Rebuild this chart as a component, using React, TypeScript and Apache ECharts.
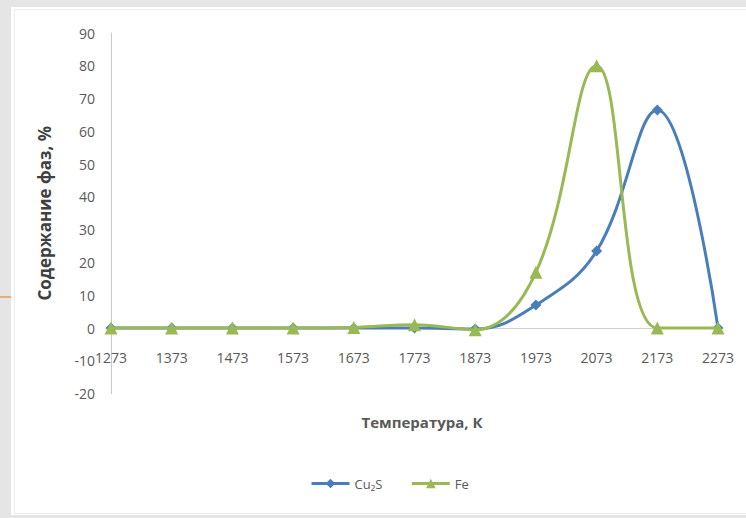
import React, { useEffect, useRef } from "react";
import * as echarts from "echarts";

const categories = ["1273", "1373", "1473", "1573", "1673", "1773", "1873", "1973", "2073", "2173", "2273"];
const cu2sValues = [0, 0, 0, 0, 0, 0, -0.3, 7, 23.5, 66.5, 0];
const feValues = [0, 0, 0, 0, 0.2, 1, -0.5, 17, 80, 0, 0];
const seriesNames = ["Cu₂S", "Fe"];
const yAxisTitle = "Содержание фаз, %";
const xAxisTitle = "Температура, К";

const FONT = "'Liberation Sans Narrow', 'Open Sans', 'Liberation Sans', sans-serif";

export default function App() {
  const ref = useRef<HTMLDivElement>(null);
  useEffect(() => {
    document.body.style.margin = "0";
    const chart = echarts.init(ref.current!, null, { renderer: "svg" });
    chart.setOption({
      animation: false,
      backgroundColor: "#e5e5e5",
      graphic: [
        { type: "rect", shape: { x: 11, y: 7, width: 735, height: 508 }, style: { fill: "#ffffff" }, z: -10 },
        { type: "rect", shape: { x: 14.5, y: 9.5, width: 740, height: 504 }, style: { fill: "none", stroke: "#ececec", lineWidth: 1 }, z: -9 },
        { type: "line", shape: { x1: 0, y1: 297, x2: 11, y2: 297 }, style: { stroke: "#e89a4c", lineWidth: 1.5 }, z: -8 },
        {
          type: "text",
          x: 422,
          y: 422,
          style: {
            text: xAxisTitle,
            fill: "#595959",
            font: "bold 15px " + FONT,
            align: "center",
            verticalAlign: "middle",
          },
        },
      ],
      grid: { left: 111, right: 28, top: 33, bottom: 124.4, containLabel: false },
      legend: {
        left: 305,
        top: 472,
        itemWidth: 38,
        itemHeight: 12,
        itemGap: 28,
        lineStyle: { width: 3 },
        textStyle: { color: "#595959", fontSize: 13, fontFamily: FONT },
        data: seriesNames,
      },
      xAxis: {
        type: "category",
        data: categories,
        boundaryGap: false,
        axisLine: { onZero: true, lineStyle: { color: "#d0d0d0", width: 1 } },
        axisTick: { show: false },
        axisLabel: { color: "#595959", fontSize: 14, fontFamily: FONT, margin: -43 },
        splitLine: { show: false },
      },
      yAxis: {
        type: "value",
        min: -20,
        max: 90,
        interval: 10,
        name: yAxisTitle,
        nameLocation: "middle",
        nameRotate: 90,
        nameGap: 58,
        nameTextStyle: { color: "#404040", fontSize: 17, fontWeight: "bold", fontFamily: FONT },
        axisLine: { show: true, lineStyle: { color: "#c8c8c8", width: 1 } },
        axisTick: { show: false },
        axisLabel: { color: "#595959", fontSize: 14, fontFamily: FONT, margin: 16 },
        splitLine: { show: false },
      },
      series: [
        {
          name: seriesNames[0],
          type: "line",
          data: cu2sValues,
          smooth: 0.4,
          symbol: "diamond",
          symbolSize: 11,
          lineStyle: { color: "#4a7ebb", width: 3 },
          itemStyle: { color: "#4a7ebb" },
          z: 2,
        },
        {
          name: seriesNames[1],
          type: "line",
          data: feValues,
          smooth: 0.4,
          symbol: "triangle",
          symbolSize: 13,
          lineStyle: { color: "#98b954", width: 3 },
          itemStyle: { color: "#98b954" },
          z: 3,
        },
      ],
    });
    return () => chart.dispose();
  }, []);
  return <div ref={ref} style={{ position: "absolute", left: 0, top: 0, width: 746, height: 518 }} />;
}
